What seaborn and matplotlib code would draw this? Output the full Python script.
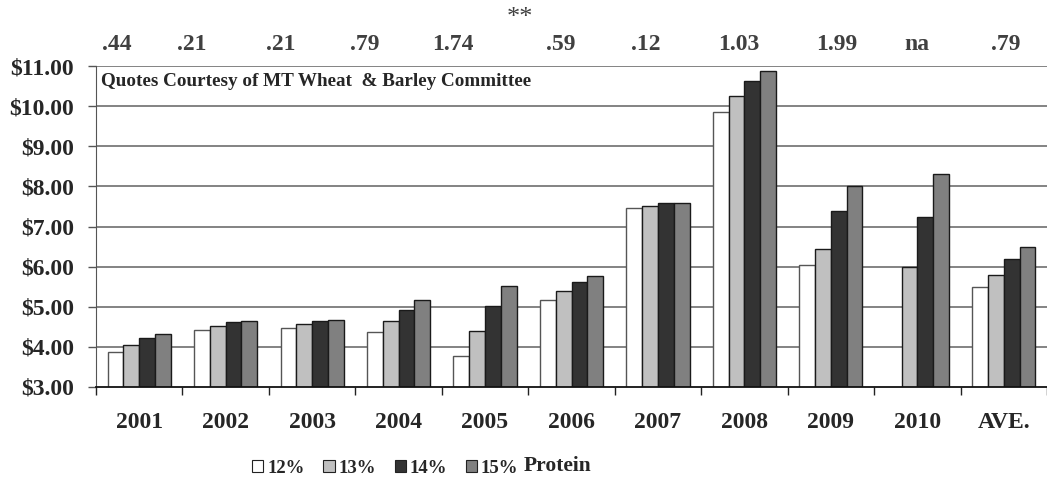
import numpy as np
import pandas as pd
import seaborn as sns
import matplotlib.pyplot as plt
from matplotlib.patches import Patch

years = ['2001', '2002', '2003', '2004', '2005', '2006', '2007', '2008', '2009', '2010', 'AVE.']
p12 = [3.88, 4.43, 4.47, 4.38, 3.78, 5.17, 7.46, 9.85, 6.03, np.nan, 5.50]
p13 = [4.04, 4.53, 4.57, 4.64, 4.39, 5.38, 7.52, 10.26, 6.44, 6.00, 5.78]
p14 = [4.22, 4.61, 4.64, 4.93, 5.03, 5.61, 7.59, 10.64, 7.38, 7.24, 6.20]
p15 = [4.32, 4.64, 4.68, 5.17, 5.52, 5.76, 7.58, 10.88, 8.02, 8.31, 6.50]
proteins = ['12%', '13%', '14%', '15%']
spread = ['.44', '.21', '.21', '.79', '1.74', '.59', '.12', '1.03', '1.99', 'na', '.79']
spread_offset = [-0.26, -0.39, -0.36, -0.39, -0.37, -0.12, -0.14, -0.06, 0.07, -0.01, 0.02]
colors = ['#ffffff', '#c0c0c0', '#333333', '#808080']

df = pd.DataFrame({'year': years * 4,
                   'protein': np.repeat(proteins, len(years)),
                   'price': p12 + p13 + p14 + p15})

sns.set_style('white')
plt.rcParams['font.family'] = ['Liberation Serif', 'DejaVu Serif']
plt.rcParams['font.weight'] = 'bold'

fig = plt.figure(figsize=(10.47, 4.83), dpi=100)
ax = fig.add_axes([0.0917, 0.199, 0.9083, 0.664])

ax.set_axisbelow(True)
for v in range(4, 12):
    ax.axhline(v, color='#7a7a7a', lw=1.3, zorder=0)

sns.barplot(data=df, x='year', y='price', hue='protein', hue_order=proteins,
            palette=colors, width=0.73, edgecolor='#1a1a1a', linewidth=1.0,
            errorbar=None, legend=False, ax=ax)
# white bars have a grey outline in the original
for bar in ax.containers[0]:
    bar.set_edgecolor('#555555')

ax.set_ylim(3, 11)
ax.set_xlim(-0.5, 10.5)
ax.set_yticks(range(3, 12))
ax.set_yticklabels([f'${v}.00' for v in range(3, 12)], fontsize=17, fontweight='bold')
ax.set_xticklabels(years, fontsize=17, fontweight='bold')
ax.set_xticks(np.arange(-0.5, 11, 1), minor=True)
ax.tick_params(axis='x', which='major', length=0, pad=18)
ax.tick_params(axis='x', which='minor', length=6, width=1, color='#222222', direction='out', bottom=True)
ax.tick_params(axis='y', length=6, width=1, color='#555555', direction='out', left=True, pad=10)
ax.set_xlabel('')
ax.set_ylabel('')
for s in ['top', 'right']:
    ax.spines[s].set_visible(False)
ax.spines['left'].set_color('#555555')
ax.spines['bottom'].set_color('#111111')
ax.spines['bottom'].set_linewidth(1.3)

for i, (lab, off) in enumerate(zip(spread, spread_offset)):
    ax.text(i + off, 11.55, lab, ha='center', va='center', fontsize=17,
            fontweight='bold', color='#404040', clip_on=False)
ax.text(4.40, 12.2, '**', ha='center', va='center', fontsize=19,
        fontweight='normal', color='#404040', clip_on=False)
ax.text(-0.44, 10.63, 'Quotes Courtesy of MT Wheat  & Barley Committee',
        ha='left', va='center', fontsize=13.8, fontweight='bold')

handles = [Patch(facecolor=c, edgecolor='#222222', linewidth=0.8) for c in colors]
fig.legend(handles, proteins, loc='center', bbox_to_anchor=(0.368, 0.031), ncol=4,
           frameon=False, prop={'size': 13.5, 'weight': 'bold'},
           handlelength=0.6, handleheight=0.6, handletextpad=0.2, columnspacing=1.0)
fig.text(0.5, 0.036, 'Protein', ha='left', va='center', fontsize=15.5, fontweight='bold')

plt.savefig('out.png', dpi=100)
